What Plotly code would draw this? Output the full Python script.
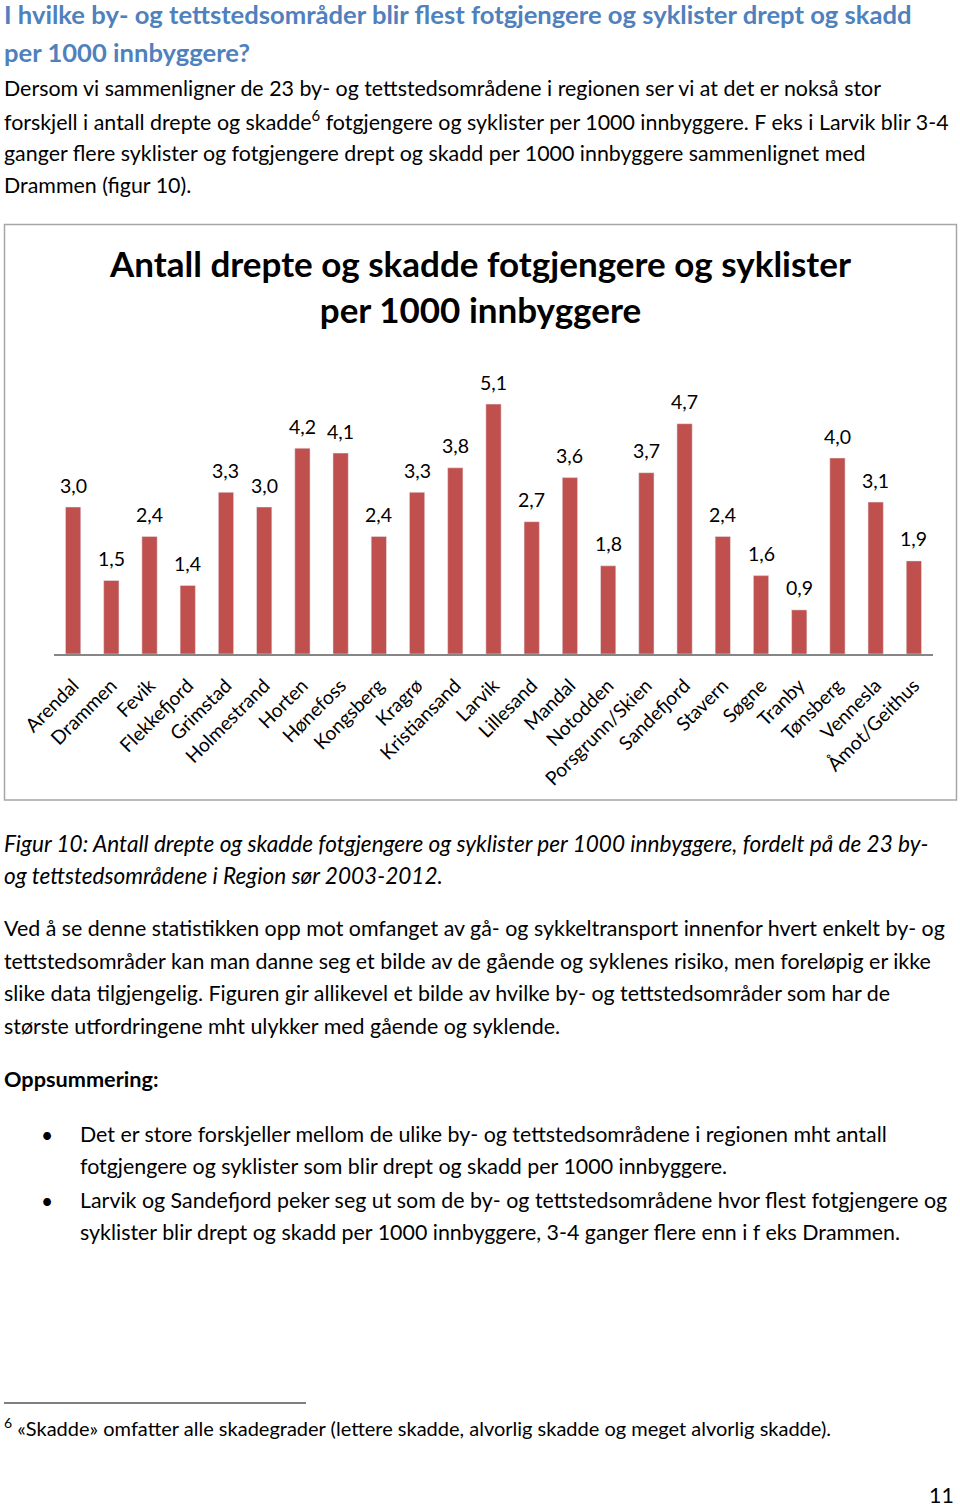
import plotly.graph_objects as go

W, H = 960, 1508
FONT = "Lato"

places = ["Arendal", "Drammen", "Fevik", "Flekkefjord", "Grimstad", "Holmestrand",
          "Horten", "Hønefoss", "Kongsberg", "Kragrø", "Kristiansand", "Larvik",
          "Lillesand", "Mandal", "Notodden", "Porsgrunn/Skien", "Sandefjord",
          "Stavern", "Søgne", "Tranby", "Tønsberg", "Vennesla", "Åmot/Geithus"]
values = [3.0, 1.5, 2.4, 1.4, 3.3, 3.0, 4.2, 4.1, 2.4, 3.3, 3.8, 5.1,
          2.7, 3.6, 1.8, 3.7, 4.7, 2.4, 1.6, 0.9, 4.0, 3.1, 1.9]

heading = ["I hvilke by- og tettstedsområder blir flest fotgjengere og syklister drept og skadd",
           "per 1000 innbyggere?"]
intro = ["Dersom vi sammenligner de 23 by- og tettstedsområdene i regionen ser vi at det er nokså stor",
         "forskjell i antall drepte og skadde<sup>6</sup> fotgjengere og syklister per 1000 innbyggere. F eks i Larvik blir 3-4",
         "ganger flere syklister og fotgjengere drept og skadd per 1000 innbyggere sammenlignet med",
         "Drammen (figur 10)."]
chart_title = "Antall drepte og skadde fotgjengere og syklister<br>per 1000 innbyggere"
caption = ["Figur 10: Antall drepte og skadde fotgjengere og syklister per 1000 innbyggere, fordelt på de 23 by-",
           "og tettstedsområdene i Region sør 2003-2012."]
para = ["Ved å se denne statistikken opp mot omfanget av gå- og sykkeltransport innenfor hvert enkelt by- og",
        "tettstedsområder kan man danne seg et bilde av de gående og syklenes risiko, men foreløpig er ikke",
        "slike data tilgjengelig. Figuren gir allikevel et bilde av hvilke by- og tettstedsområder som har de",
        "største utfordringene mht ulykker med gående og syklende."]
summary_head = "Oppsummering:"
bullets = [["Det er store forskjeller mellom de ulike by- og tettstedsområdene i regionen mht antall",
            "fotgjengere og syklister som blir drept og skadd per 1000 innbyggere."],
           ["Larvik og Sandefjord peker seg ut som de by- og tettstedsområdene hvor flest fotgjengere og",
            "syklister blir drept og skadd per 1000 innbyggere, 3-4 ganger flere enn i f eks Drammen."]]
footnote = "<sup>6</sup> «Skadde» omfatter alle skadegrader (lettere skadde, alvorlig skadde og meget alvorlig skadde)."
page_no = "11"

BAR = "#C0504D"
BLUE = "#4F81BD"

def px(x):
    return x / W

def py(y):
    return 1 - y / H

fig = go.Figure()
fig.add_trace(go.Bar(x=places, y=values, marker_color=BAR, width=0.4,
                     hoverinfo="x+y"))

ann = []

def txt(x, y, s, size=21.4, color="#000", bold=False, italic=False, anchor="left", family=FONT):
    if bold:
        s = "<b>" + s + "</b>"
    if italic:
        s = "<i>" + s + "</i>"
    ann.append(dict(x=px(x), y=py(y), xref="paper", yref="paper", text=s,
                    showarrow=False, xanchor=anchor, yanchor="middle",
                    font=dict(family=family, size=size, color=color)))

for i, s in enumerate(heading):
    txt(2, 14 + 38 * i, s, size=25.6, color=BLUE, bold=True)
for i, s in enumerate(intro):
    txt(2, 88 + 32.3 * i, s)
txt(480, 286, chart_title, size=35, bold=True, anchor="center")
for i, s in enumerate(caption):
    txt(2, 843 + 32 * i, s, size=22.6, italic=True)
for i, s in enumerate(para):
    txt(2, 928 + 32.5 * i, s, size=21.4)
txt(2, 1079, summary_head, size=21.7, bold=True)
yb = 1134
for b in bullets:
    txt(47, yb, "•", size=21, anchor="center")
    for j, s in enumerate(b):
        txt(78, yb + 32 * j, s, size=21.4)
    yb += 66
txt(2, 1427, footnote, size=20)
txt(956, 1495, page_no, size=21.4, anchor="right")

# value labels above bars
for p, v in zip(places, values):
    ann.append(dict(x=p, y=v, xref="x", yref="y", text=f"{v:.1f}".replace(".", ","),
                    showarrow=False, yanchor="middle", yshift=22,
                    font=dict(family=FONT, size=19.5, color="#000")))

shapes = [
    dict(type="rect", xref="paper", yref="paper", x0=px(4.5), x1=px(956.5),
         y0=py(800), y1=py(224.5), line=dict(color="#A6A6A6", width=1.5)),
    dict(type="line", xref="paper", yref="paper", x0=px(4), x1=px(306),
         y0=py(1403), y1=py(1403), line=dict(color="#000", width=1.2)),
]

fig.update_layout(
    width=W, height=H, margin=dict(l=0, r=0, t=0, b=0, pad=0, autoexpand=False),
    paper_bgcolor="white", plot_bgcolor="white",
    showlegend=False, annotations=ann, shapes=shapes,
    xaxis=dict(domain=[px(54), px(933)], range=[-0.5, 22.5], tickangle=-45,
               automargin=False,
               showline=True, linecolor="#868686", linewidth=1.5,
               ticks="outside", ticklen=11, tickcolor="rgba(0,0,0,0)",
               showgrid=False, tickfont=dict(family=FONT, size=19.3, color="#000")),
    yaxis=dict(domain=[py(654), py(360)], range=[0, 6], visible=False,
               automargin=False, showgrid=False, zeroline=False),
)

# remove the browser's default 8px body margin so the page maps 1:1 to the figure
fig.write_html("out.html", config={"displayModeBar": False},
               post_script="document.body.style.margin='0';document.body.style.overflow='hidden';")
